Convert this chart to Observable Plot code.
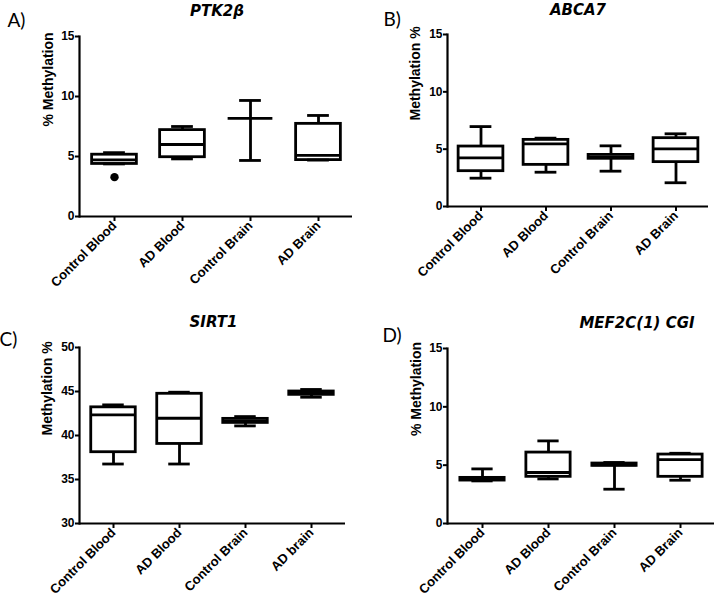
<!DOCTYPE html>
<html>
<head>
<meta charset="utf-8">
<script src="https://cdn.jsdelivr.net/npm/d3@7"></script>
<script src="https://cdn.jsdelivr.net/npm/@observablehq/plot@0.6"></script>
<style>
  body { margin: 0; background: white; }
  #wrap { position: relative; width: 715px; height: 600px; overflow: hidden; background: white; }
  .panel { position: absolute; }
  g[aria-label="y-axis tick label"] text, g[aria-label="x-axis tick label"] text { font-weight: bold; }
</style>
</head>
<body>
<div id="wrap">
  <div class="panel" id="pA" style="left:0px;top:0px"></div>
  <div class="panel" id="pB" style="left:358px;top:0px"></div>
  <div class="panel" id="pC" style="left:0px;top:300px"></div>
  <div class="panel" id="pD" style="left:358px;top:300px"></div>
</div>
<script>
// ---- Data ----
const groups = ["Control Blood", "AD Blood", "Control Brain", "AD Brain"];
const groupsSIRT1 = ["Control Blood", "AD Blood", "Control Brain", "AD brain"];

// A) PTK2β
const ptk2bMin = [4.38, 4.8, 4.67, 4.7];
const ptk2bQ1  = [4.38, 4.94, 8.17, 4.7];
const ptk2bMed = [4.72, 6.0, 8.17, 5.1];
const ptk2bQ3  = [5.15, 7.2, 8.17, 7.72];
const ptk2bMax = [5.32, 7.5, 9.67, 8.42];
const ptk2bOutlierGroup = ["Control Blood"];
const ptk2bOutlierValue = [3.28];

// B) ABCA7
const abca7Min = [2.47, 2.99, 3.08, 2.07];
const abca7Q1  = [3.08, 3.63, 4.16, 3.87];
const abca7Med = [4.24, 5.47, 4.3, 5.03];
const abca7Q3  = [5.23, 5.81, 4.5, 5.96];
const abca7Max = [6.97, 5.96, 5.29, 6.34];

// C) SIRT1
const sirt1Min = [36.76, 36.76, 41.09, 44.35];
const sirt1Q1  = [38.1, 39.04, 41.43, 44.62];
const sirt1Med = [42.35, 41.96, 41.66, 44.8];
const sirt1Q3  = [43.2, 44.74, 41.89, 45.0];
const sirt1Max = [43.48, 44.92, 42.15, 45.23];

// D) MEF2C(1) CGI
const mef2cMin = [3.65, 3.82, 2.94, 3.71];
const mef2cQ1  = [3.68, 4.0, 4.94, 4.0];
const mef2cMed = [3.8, 4.37, 5.02, 5.48];
const mef2cQ3  = [3.91, 6.08, 5.14, 5.91];
const mef2cMax = [4.68, 7.08, 5.23, 6.02];

const ticks0to15 = [0, 5, 10, 15];
const ticks30to50 = [30, 35, 40, 45, 50];

function panel(o) {
  const rows = o.cats.map((c, i) => ({cat: c, min: o.min[i], q1: o.q1[i], med: o.med[i], q3: o.q3[i], max: o.max[i]}));
  const outliers = (o.outCats || []).map((c, i) => ({cat: c, value: o.outVals[i]}));
  const bw = (o.width - o.ml - o.mr) / o.cats.length;
  const bi = (bw - 45) / 2;   // box inset
  const ci = (bw - 22) / 2;   // whisker cap inset
  const sw = 2.8;
  const chart = Plot.plot({
    width: o.width, height: o.height,
    marginLeft: o.ml, marginRight: o.mr, marginTop: o.mt, marginBottom: o.mb,
    style: {fontFamily: "'Liberation Sans', Arial, sans-serif", background: "white", overflow: "visible"},
    x: {domain: o.cats, padding: 0},
    y: {domain: o.yDomain},
    marks: [
      Plot.ruleX(rows, {x: "cat", y1: "min", y2: "max", stroke: "black", strokeWidth: sw}),
      Plot.barY(rows, {x: "cat", y1: "q1", y2: "q3", fill: "white", stroke: "black", strokeWidth: sw, insetLeft: bi, insetRight: bi}),
      Plot.tickY(rows, {x: "cat", y: "med", stroke: "black", strokeWidth: sw, insetLeft: bi, insetRight: bi}),
      Plot.tickY(rows, {x: "cat", y: "max", stroke: "black", strokeWidth: sw, insetLeft: ci, insetRight: ci}),
      Plot.tickY(rows, {x: "cat", y: "min", stroke: "black", strokeWidth: sw, insetLeft: ci, insetRight: ci}),
      Plot.dot(outliers, {x: "cat", y: "value", r: 4.2, fill: "black", stroke: "none"}),
      Plot.ruleY([o.yDomain[0]], {stroke: "black", strokeWidth: 2.2}),
      Plot.frame({anchor: "left", stroke: "black", strokeWidth: 2.2}),
      Plot.axisY({ticks: o.yTicks, tickSize: 4, tickPadding: 1, fontSize: 12, fontWeight: "bold", label: null, strokeWidth: 2}),
      Plot.axisX({tickSize: 5, tickRotate: -45, tickPadding: 2, fontSize: 13, fontWeight: "bold", label: null, strokeWidth: 2}),
      Plot.text([o.yLabel], {frameAnchor: "left", dx: o.labelDx, rotate: -90, fontSize: 14, fontWeight: "bold", fill: "black"}),
      Plot.text([o.title], {frameAnchor: "top", dx: o.titleDx, dy: o.titleDy, lineAnchor: "middle", fontSize: 15, fontWeight: "bold", fontStyle: "italic", fontFamily: "'DejaVu Sans', sans-serif", fill: "black"}),
      Plot.text([o.tag], {frameAnchor: "top-left", textAnchor: "start", lineAnchor: "top", dx: o.tagDx, dy: o.tagDy, fontSize: 19, fontFamily: "Lato, 'Open Sans', sans-serif", fill: "black"})
    ]
  });
  document.getElementById(o.el).appendChild(chart);
}

panel({el: "pA", cats: groups, min: ptk2bMin, q1: ptk2bQ1, med: ptk2bMed, q3: ptk2bQ3, max: ptk2bMax,
  outCats: ptk2bOutlierGroup, outVals: ptk2bOutlierValue,
  yDomain: [0, 15], yTicks: ticks0to15, yLabel: "% Methylation", title: "PTK2β", tag: "A)",
  width: 357, height: 300, ml: 79, mr: 5, mt: 36, mb: 84,
  labelDx: -31, titleDx: 1, titleDy: -25, tagDx: -72, tagDy: -23});

panel({el: "pB", cats: groups, min: abca7Min, q1: abca7Q1, med: abca7Med, q3: abca7Q3, max: abca7Max,
  yDomain: [0, 15], yTicks: ticks0to15, yLabel: "Methylation %", title: "ABCA7", tag: "B)",
  width: 357, height: 300, ml: 89, mr: 7, mt: 34, mb: 94,
  labelDx: -32, titleDx: 0, titleDy: -24.5, tagDx: -64, tagDy: -22});

panel({el: "pC", cats: groupsSIRT1, min: sirt1Min, q1: sirt1Q1, med: sirt1Med, q3: sirt1Q3, max: sirt1Max,
  yDomain: [30, 50], yTicks: ticks30to50, yLabel: "Methylation %", title: "SIRT1", tag: "C)",
  width: 357, height: 300, ml: 79, mr: 12, mt: 47, mb: 77,
  labelDx: -32, titleDx: 1, titleDy: -25.7, tagDx: -80, tagDy: -15});

panel({el: "pD", cats: groups, min: mef2cMin, q1: mef2cQ1, med: mef2cMed, q3: mef2cQ3, max: mef2cMax,
  yDomain: [0, 15], yTicks: ticks0to15, yLabel: "% Methylation", title: "MEF2C(1) CGI", tag: "D)",
  width: 357, height: 300, ml: 89, mr: 1, mt: 48, mb: 77,
  labelDx: -31, titleDx: 56, titleDy: -25, tagDx: -65, tagDy: -20});
</script>
</body>
</html>
